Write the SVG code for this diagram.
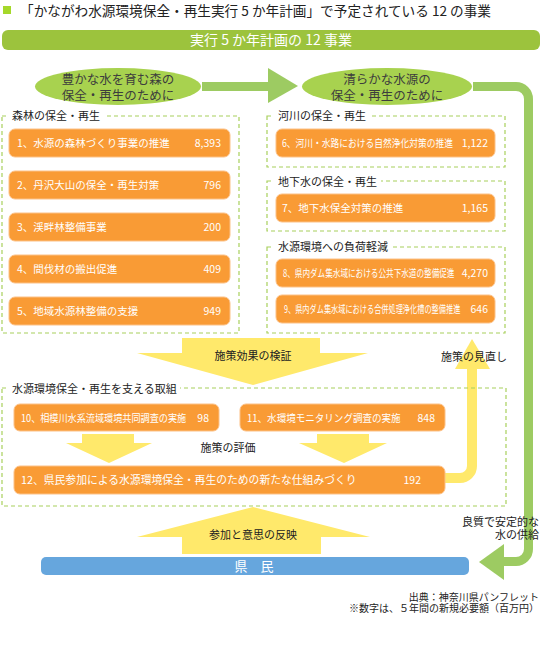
<svg xmlns="http://www.w3.org/2000/svg" width="542" height="650" viewBox="0 0 542 650">
<style>
text { font-family: 'Noto Sans CJK JP', 'Noto Sans CJK SC', 'Noto Sans', sans-serif; }
.box { fill: #f99b35; stroke: #fcc187; stroke-width: 1; }
.bt { fill: #ffffff; font-size: 10.5px; }
.num { fill: #ffffff; font-size: 10.5px; text-anchor: end; }
.grp { fill: none; stroke: #a8d05c; stroke-width: 1.2; stroke-dasharray: 4 3; }
.lbl { fill: #222222; font-size: 11px; }
.lblbg { fill: #ffffff; }
.yel { fill: #ffe96b; }
.ell { fill: #a8d24f; }
.et { fill: #3d3d3d; font-size: 12.5px; text-anchor: middle; }
.cap { fill: #222222; font-size: 11px; }
</style>
<rect x="0" y="0" width="542" height="650" fill="#ffffff"/>

<g id="title">
  <rect x="3" y="6" width="8" height="8" fill="#a5d82a"/>
  <text x="20" y="16" font-size="13.5" fill="#222222" textLength="471" lengthAdjust="spacingAndGlyphs">「かながわ水源環境保全・再生実行 5 か年計画」で予定されている 12 の事業</text>
</g>

<g id="header">
  <rect x="2" y="30" width="538" height="20" rx="6" fill="#9cc33d"/>
  <text x="271" y="45" font-size="14" fill="#ffffff" text-anchor="middle">実行 5 か年計画の 12 事業</text>
</g>

<g id="connectors">
  <rect x="202" y="82" width="67" height="9" fill="#9dcb62"/>
  <polygon points="268,68 298,86 268,103" fill="#9dcb62"/>
  <path d="M473,86.5 H516 A12.5,12.5 0 0 1 528.5,99 V549 A12.5,12.5 0 0 1 516,561.5 H500" fill="none" stroke="#9dcb62" stroke-width="9"/>
  <polygon points="479,562 504,544 504,580" fill="#9dcb62"/>
  <path d="M440,478 H460 A12,12 0 0 0 472,466 V366" fill="none" stroke="#ffe96b" stroke-width="10"/>
  <polygon class="yel" points="472,339 490,369 455,369"/>
  <polygon class="yel" points="182,338 320,338 320,353 368,353 253,385 137,353 182,353"/>
  <polygon class="yel" points="253,507 370,537 321,537 321,554 182,554 182,537 137,537"/>
  <polygon class="yel" points="82,434 134,434 134,443 152,443 109,463 66,443 82,443"/>
  <polygon class="yel" points="317,434 369,434 369,443 387,443 344,463 299,443 317,443"/>
  <text class="cap" x="253" y="360" text-anchor="middle">施策効果の検証</text>
  <text class="cap" x="441" y="361">施策の見直し</text>
  <text class="cap" x="228" y="452" text-anchor="middle">施策の評価</text>
  <text class="cap" x="253" y="539" text-anchor="middle">参加と意思の反映</text>
  <text class="cap" x="539" y="526" text-anchor="end">良質で安定的な</text>
  <text class="cap" x="539" y="539" text-anchor="end">水の供給</text>
</g>

<g id="ellipse-forest">
  <ellipse class="ell" cx="118" cy="86.5" rx="83" ry="18.5"/>
  <text class="et" x="118" y="84">豊かな水を育む森の</text>
  <text class="et" x="118" y="100">保全・再生のために</text>
</g>
<g id="ellipse-water">
  <ellipse class="ell" cx="387" cy="86.5" rx="85" ry="18.5"/>
  <text class="et" x="387" y="84">清らかな水源の</text>
  <text class="et" x="387" y="100">保全・再生のために</text>
</g>

<g id="group-forest">
  <rect class="grp" x="2" y="116" width="237" height="217"/>
  <rect class="lblbg" x="8" y="109" width="96" height="14"/>
  <text class="lbl" x="12" y="120">森林の保全・再生</text>
</g>
<g id="group-river">
  <rect class="grp" x="267" y="116" width="238" height="51"/>
  <rect class="lblbg" x="273" y="109" width="96" height="14"/>
  <text class="lbl" x="278" y="120">河川の保全・再生</text>
</g>
<g id="group-groundwater">
  <rect class="grp" x="267" y="181" width="238" height="50"/>
  <rect class="lblbg" x="273" y="174" width="108" height="14"/>
  <text class="lbl" x="278" y="186">地下水の保全・再生</text>
</g>
<g id="group-load">
  <rect class="grp" x="267" y="247" width="238" height="86"/>
  <rect class="lblbg" x="273" y="240" width="119" height="14"/>
  <text class="lbl" x="278" y="251">水源環境への負荷軽減</text>
</g>
<g id="group-support">
  <rect class="grp" x="2" y="388" width="504" height="118"/>
  <rect class="lblbg" x="8" y="381" width="172" height="14"/>
  <text class="lbl" x="12" y="393">水源環境保全・再生を支える取組</text>
</g>

<g id="node1">
  <rect class="box" x="9" y="129" width="221" height="28" rx="6"/>
  <text class="bt" x="17" y="147">1、水源の森林づくり事業の推進</text>
  <text class="num" x="221" y="147">8,393</text>
</g>
<g id="node2">
  <rect class="box" x="9" y="171" width="221" height="28" rx="6"/>
  <text class="bt" x="17" y="189">2、丹沢大山の保全・再生対策</text>
  <text class="num" x="221" y="189">796</text>
</g>
<g id="node3">
  <rect class="box" x="9" y="213" width="221" height="28" rx="6"/>
  <text class="bt" x="17" y="231">3、渓畔林整備事業</text>
  <text class="num" x="221" y="231">200</text>
</g>
<g id="node4">
  <rect class="box" x="9" y="255" width="221" height="28" rx="6"/>
  <text class="bt" x="17" y="273">4、間伐材の搬出促進</text>
  <text class="num" x="221" y="273">409</text>
</g>
<g id="node5">
  <rect class="box" x="9" y="297" width="221" height="28" rx="6"/>
  <text class="bt" x="17" y="315">5、地域水源林整備の支援</text>
  <text class="num" x="221" y="315">949</text>
</g>
<g id="node6">
  <rect class="box" x="276" y="129" width="219" height="28" rx="6"/>
  <text class="bt" transform="translate(282,147) scale(0.833,1)">6、河川・水路における自然浄化対策の推進</text>
  <text class="num" x="488" y="147">1,122</text>
</g>
<g id="node7">
  <rect class="box" x="276" y="194" width="219" height="28" rx="6"/>
  <text class="bt" x="282" y="212">7、地下水保全対策の推進</text>
  <text class="num" x="488" y="212">1,165</text>
</g>
<g id="node8">
  <rect class="box" x="276" y="259" width="219" height="28" rx="6"/>
  <text class="bt" transform="translate(283,277) scale(0.725,1)">8、県内ダム集水域における公共下水道の整備促進</text>
  <text class="num" x="488" y="277">4,270</text>
</g>
<g id="node9">
  <rect class="box" x="276" y="295" width="219" height="28" rx="6"/>
  <text class="bt" transform="translate(284,313) scale(0.685,1)">9、県内ダム集水域における合併処理浄化槽の整備推進</text>
  <text class="num" x="488" y="313">646</text>
</g>
<g id="node10">
  <rect class="box" x="14" y="404" width="205" height="27" rx="6"/>
  <text class="bt" transform="translate(21,421.5) scale(0.87,1)">10、相模川水系流域環境共同調査の実施</text>
  <text class="num" x="209" y="421.5">98</text>
</g>
<g id="node11">
  <rect class="box" x="240" y="404" width="205" height="27" rx="6"/>
  <text class="bt" transform="translate(247,421.5) scale(0.91,1)">11、水環境モニタリング調査の実施</text>
  <text class="num" x="435" y="421.5">848</text>
</g>
<g id="node12">
  <rect class="box" x="14" y="466" width="431" height="28" rx="6"/>
  <text class="bt" x="21" y="484" style="font-size:10.8px">12、県民参加による水源環境保全・再生のための新たな仕組みづくり</text>
  <text class="num" x="421" y="484">192</text>
</g>

<g id="citizens">
  <rect x="41" y="557" width="428" height="18" rx="5" fill="#66a6dd"/>
  <text x="254" y="571" font-size="13" fill="#ffffff" text-anchor="middle">県　民</text>
</g>

<g id="notes">
  <text x="539" y="601" font-size="10" fill="#222222" text-anchor="end">出典：神奈川県パンフレット</text>
  <text x="539" y="612" font-size="10" fill="#222222" text-anchor="end">※数字は、５年間の新規必要額（百万円）</text>
</g>
</svg>
